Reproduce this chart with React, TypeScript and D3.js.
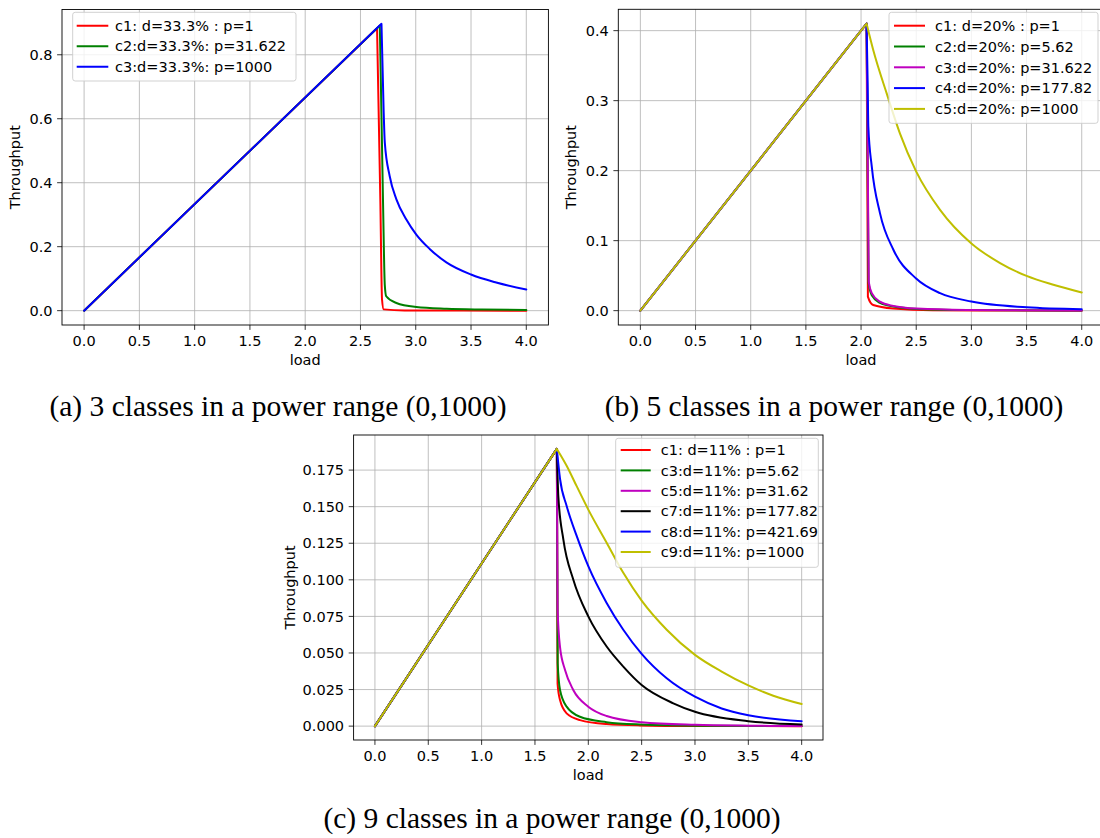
import React from "react";
import * as d3 from "d3";

type Pt = [number, number];

// ---------- shared ticks ----------
const X_TICKS = [0, 0.5, 1, 1.5, 2, 2.5, 3, 3.5, 4];
const X_TICK_LABELS = ["0.0", "0.5", "1.0", "1.5", "2.0", "2.5", "3.0", "3.5", "4.0"];

// ---------- panel (a) ----------
const A_Y_TICKS = [0, 0.2, 0.4, 0.6, 0.8];
const A_Y_TICK_LABELS = ["0.0", "0.2", "0.4", "0.6", "0.8"];
const A_LABELS = ["c1: d=33.3% : p=1", "c2:d=33.3%: p=31.622", "c3:d=33.3%: p=1000"];
const A_C1: Pt[] = [[0, 0], [2.65, 0.883], [2.68, 0.34], [2.695, 0.035], [2.71, 0.004], [2.9, 0.0005], [4.0, 0]];
const A_C2: Pt[] = [[0, 0], [2.675, 0.8917], [2.704, 0.34], [2.72, 0.08], [2.733, 0.045], [2.825, 0.024], [3.005, 0.0115], [3.28, 0.006], [3.6, 0.0035], [4.0, 0.002]];
const A_C3: Pt[] = [[0, 0], [2.69, 0.8967], [2.71, 0.62], [2.72, 0.526], [2.764, 0.421], [2.825, 0.348], [2.915, 0.285], [3.005, 0.238], [3.126, 0.193], [3.277, 0.151], [3.5, 0.113], [3.728, 0.088], [4.0, 0.066]];

// ---------- panel (b) ----------
const B_Y_TICKS = [0, 0.1, 0.2, 0.3, 0.4];
const B_Y_TICK_LABELS = ["0.0", "0.1", "0.2", "0.3", "0.4"];
const B_LABELS = ["c1: d=20% : p=1", "c2:d=20%: p=5.62", "c3:d=20%: p=31.622", "c4:d=20%: p=177.82", "c5:d=20%: p=1000"];
const B_C1: Pt[] = [[0, 0], [2.05, 0.41], [2.062, 0.02], [2.11, 0.008], [2.29, 0.003], [2.65, 0.0005], [4.0, 0]];
const B_C2: Pt[] = [[0, 0], [2.05, 0.41], [2.068, 0.04], [2.097, 0.022], [2.172, 0.011], [2.293, 0.0058], [2.505, 0.0025], [2.958, 0.0008], [4.0, 0.0002]];
const B_C3: Pt[] = [[0, 0], [2.05, 0.41], [2.07, 0.041], [2.097, 0.025], [2.172, 0.0128], [2.293, 0.0067], [2.505, 0.0029], [2.958, 0.001], [4.0, 0.0003]];
const B_C4: Pt[] = [[0, 0], [2.05, 0.41], [2.06, 0.325], [2.066, 0.263], [2.097, 0.206], [2.172, 0.139], [2.293, 0.087], [2.499, 0.046], [2.716, 0.025], [3.0, 0.013], [3.5, 0.0048], [4.0, 0.002]];
const B_C5: Pt[] = [[0, 0], [2.05, 0.41], [2.111, 0.372], [2.233, 0.31], [2.353, 0.253], [2.499, 0.199], [2.716, 0.144], [3.0, 0.096], [3.26, 0.068], [3.5, 0.0496], [3.743, 0.037], [4.0, 0.026]];

// ---------- panel (c) ----------
const C_Y_TICKS = [0, 0.025, 0.05, 0.075, 0.1, 0.125, 0.15, 0.175];
const C_Y_TICK_LABELS = ["0.000", "0.025", "0.050", "0.075", "0.100", "0.125", "0.150", "0.175"];
const C_LABELS = ["c1: d=11% : p=1", "c3:d=11%: p=5.62", "c5:d=11%: p=31.62", "c7:d=11%: p=177.82", "c8:d=11%: p=421.69", "c9:d=11%: p=1000"];
const C_C1: Pt[] = [[0, 0], [1.705, 0.1895], [1.712, 0.029], [1.735, 0.0178], [1.797, 0.0087], [1.922, 0.0041], [2.172, 0.0014], [2.485, 0.0005], [3.0, 0.0001], [4.0, 0]];
const C_C3: Pt[] = [[0, 0], [1.705, 0.1895], [1.713, 0.043], [1.735, 0.0247], [1.797, 0.0133], [1.922, 0.0064], [2.172, 0.0027], [2.485, 0.0011], [3.0, 0.0003], [4.0, 0.0001]];
const C_C5: Pt[] = [[0, 0], [1.705, 0.1895], [1.712, 0.08], [1.735, 0.054], [1.782, 0.0384], [1.859, 0.0247], [2.0, 0.0133], [2.172, 0.0069], [2.5, 0.0027], [3.0, 0.0009], [3.5, 0.0003], [4.0, 0.0001]];
const C_C7: Pt[] = [[0, 0], [1.705, 0.1895], [1.719, 0.157], [1.766, 0.1277], [1.859, 0.1002], [2.0, 0.075], [2.172, 0.0544], [2.328, 0.0407], [2.5, 0.0281], [2.797, 0.0156], [3.0, 0.0098], [3.5, 0.0034], [4.0, 0.0011]];
const C_C8: Pt[] = [[0, 0], [1.705, 0.1895], [1.735, 0.169], [1.797, 0.1505], [1.891, 0.13], [2.0, 0.1093], [2.172, 0.0842], [2.328, 0.0659], [2.5, 0.0494], [2.735, 0.0327], [3.0, 0.0201], [3.25, 0.0121], [3.5, 0.0075], [4.0, 0.0034]];
const C_C9: Pt[] = [[0, 0], [1.705, 0.1895], [1.797, 0.178], [1.891, 0.164], [2.0, 0.148], [2.172, 0.1254], [2.328, 0.1048], [2.5, 0.0858], [2.735, 0.0659], [3.0, 0.0487], [3.25, 0.0373], [3.5, 0.0278], [3.734, 0.0208], [4.0, 0.0151]];

const CAPTIONS = ["(a) 3 classes in a power range (0,1000)", "(b) 5 classes in a power range (0,1000)", "(c) 9 classes in a power range (0,1000)"];

// ---------- styles ----------
const COL = { r: "#ff0000", g: "#008000", b: "#0000ff", m: "#bf00bf", k: "#000000", y: "#bfbf00" };
const FONT = "DejaVu Sans, sans-serif";
const FS = 14.5;

type Layout = {
  left: number; right: number; top: number; bottom: number; ylabelX: number;
  leg: { x: number; y: number; w: number; h: number; row0: number; step: number; l0: number; l1: number; tx: number };
};

function Panel(props: {
  series: Pt[][]; colors: string[]; labels: string[];
  yTicks: number[]; yTickLabels: string[]; lay: Layout;
}) {
  const { series, colors, labels, yTicks, yTickLabels, lay } = props;
  const x = d3.scaleLinear().domain([-0.2, 4.2]).range([lay.left, lay.right]);
  const all = series.flat();
  const ymax = d3.max(all, (d) => d[1]) as number;
  const ymin = d3.min(all, (d) => d[1]) as number;
  const pad = (ymax - ymin) * 0.05;
  const y = d3.scaleLinear().domain([ymin - pad, ymax + pad]).range([lay.bottom, lay.top]);
  const lin = d3.line<Pt>().x((d) => x(d[0])).y((d) => y(d[1]));
  const mono = d3.line<Pt>().x((d) => x(d[0])).y((d) => y(d[1])).curve(d3.curveMonotoneX);
  const pathOf = (s: Pt[]) => {
    const pk = d3.maxIndex(s, (d) => d[1]);
    const p1 = lin(s.slice(0, pk + 1)) as string;
    const p2 = (mono(s.slice(pk)) as string).replace(/^M/, "L");
    return p1 + p2;
  };
  const tick = 4.9;
  const cx = (lay.left + lay.right) / 2;
  const cy = (lay.top + lay.bottom) / 2;
  return (
    <g fontFamily={FONT} fontSize={FS}>
      {X_TICKS.map((t) => (
        <line key={"gx" + t} x1={x(t)} x2={x(t)} y1={lay.top} y2={lay.bottom} stroke="#b0b0b0" strokeWidth={0.8} />
      ))}
      {yTicks.map((t) => (
        <line key={"gy" + t} x1={lay.left} x2={lay.right} y1={y(t)} y2={y(t)} stroke="#b0b0b0" strokeWidth={0.8} />
      ))}
      {series.map((s, i) => (
        <path key={"s" + i} d={pathOf(s)} fill="none" stroke={colors[i]} strokeWidth={2} strokeLinejoin="round" strokeLinecap="round" />
      ))}
      <rect x={lay.left} y={lay.top} width={lay.right - lay.left} height={lay.bottom - lay.top} fill="none" stroke="#000" strokeWidth={0.9} />
      {X_TICKS.map((t, i) => (
        <g key={"xt" + t}>
          <line x1={x(t)} x2={x(t)} y1={lay.bottom} y2={lay.bottom + tick} stroke="#000" strokeWidth={0.8} />
          <text x={x(t)} y={lay.bottom + 21} textAnchor="middle" fill="#000">{X_TICK_LABELS[i]}</text>
        </g>
      ))}
      {yTicks.map((t, i) => (
        <g key={"yt" + t}>
          <line x1={lay.left - tick} x2={lay.left} y1={y(t)} y2={y(t)} stroke="#000" strokeWidth={0.8} />
          <text x={lay.left - 9.5} y={y(t)} dy="0.36em" textAnchor="end" fill="#000">{yTickLabels[i]}</text>
        </g>
      ))}
      <text x={cx} y={lay.bottom + 40} textAnchor="middle" fill="#000">load</text>
      <text transform={`translate(${lay.ylabelX},${cy}) rotate(-90)`} textAnchor="middle" dy="0.36em" fill="#000">Throughput</text>
      <g>
        <rect x={lay.leg.x} y={lay.leg.y} width={lay.leg.w} height={lay.leg.h} rx={2.5} fill="#fff" fillOpacity={0.8} stroke="#cccccc" strokeWidth={0.9} />
        {labels.map((lb, i) => {
          const ry = lay.leg.row0 + i * lay.leg.step;
          return (
            <g key={"lg" + i}>
              <line x1={lay.leg.l0} x2={lay.leg.l1} y1={ry} y2={ry} stroke={colors[i]} strokeWidth={2} />
              <text x={lay.leg.tx} y={ry} dy="0.36em" fill="#000">{lb}</text>
            </g>
          );
        })}
      </g>
    </g>
  );
}

const LAY_A: Layout = { left: 62, right: 548.4, top: 9.5, bottom: 325, ylabelX: 15, leg: { x: 72.7, y: 12.3, w: 223.3, h: 68.7, row0: 25.7, step: 20.5, l0: 76.7, l1: 108.3, tx: 115 } };
const LAY_B: Layout = { left: 618.3, right: 1103.8, top: 9.3, bottom: 325, ylabelX: 571, leg: { x: 889, y: 12.3, w: 209, h: 111, row0: 25.7, step: 20.8, l0: 894, l1: 925, tx: 935 } };
const LAY_C: Layout = { left: 353.6, right: 823, top: 435, bottom: 740, ylabelX: 289.6, leg: { x: 615.7, y: 438.3, w: 202.6, h: 129, row0: 450, step: 20.4, l0: 620.7, l1: 650.7, tx: 660.7 } };

export default function App() {
  return (
    <svg width={1100} height={838} style={{ position: "absolute", left: 0, top: 0, background: "#fff" }}>
      <rect x={0} y={0} width={1100} height={838} fill="#fff" />
      <Panel series={[A_C1, A_C2, A_C3]} colors={[COL.r, COL.g, COL.b]} labels={A_LABELS} yTicks={A_Y_TICKS} yTickLabels={A_Y_TICK_LABELS} lay={LAY_A} />
      <Panel series={[B_C1, B_C2, B_C3, B_C4, B_C5]} colors={[COL.r, COL.g, COL.m, COL.b, COL.y]} labels={B_LABELS} yTicks={B_Y_TICKS} yTickLabels={B_Y_TICK_LABELS} lay={LAY_B} />
      <Panel series={[C_C1, C_C3, C_C5, C_C7, C_C8, C_C9]} colors={[COL.r, COL.g, COL.m, COL.k, COL.b, COL.y]} labels={C_LABELS} yTicks={C_Y_TICKS} yTickLabels={C_Y_TICK_LABELS} lay={LAY_C} />
      <g fontFamily="Liberation Serif, Times New Roman, serif" fontSize={29.5} fill="#000" textAnchor="middle">
        <text x={278} y={416}>{CAPTIONS[0]}</text>
        <text x={834} y={416}>{CAPTIONS[1]}</text>
        <text x={552} y={828}>{CAPTIONS[2]}</text>
      </g>
    </svg>
  );
}
